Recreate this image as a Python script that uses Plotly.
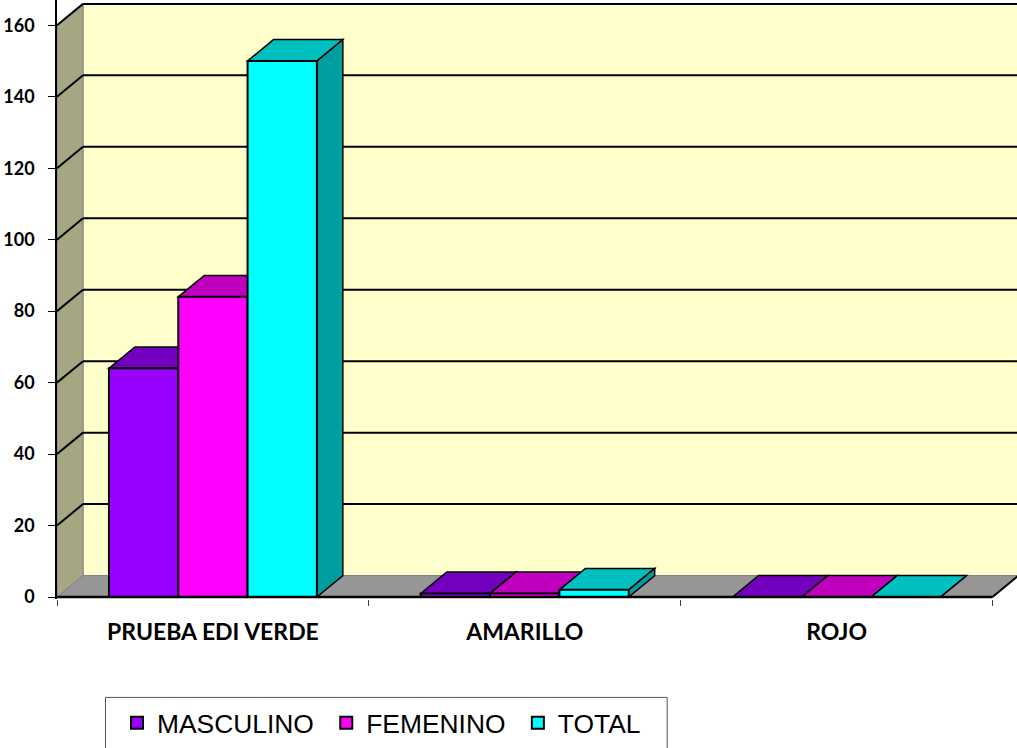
import plotly.graph_objects as go

categories = ["PRUEBA EDI VERDE", "AMARILLO", "ROJO"]
masculino = [64, 1, 0]
femenino = [84, 1, 0]
total = [150, 2, 0]
series_names = ["MASCULINO", "FEMENINO", "TOTAL"]
front_colors = ["#9900FF", "#FF00FF", "#00FFFF"]
top_colors = ["#7300BF", "#BF00BF", "#00BFBF"]
side_colors = ["#5F009F", "#9F009F", "#009F9F"]
y_ticks = [0, 20, 40, 60, 80, 100, 120, 140, 160]

WALL = "#FFFFCC"
SIDE_WALL = "#A6A682"
FLOOR = "#969696"
DX = 26 / 312      # depth, in category units
DY = 6.0           # depth, in value units
BAR_W = 2 / 9      # one bar, in category units
X0, X1 = -0.5, 2.5
Y_TOP = y_ticks[-1]


def poly(points, fill, line="black", width=1.5):
    path = "M" + " L".join(f"{x},{y}" for x, y in points) + " Z"
    return dict(type="path", path=path, xref="x", yref="y", layer="below",
                fillcolor=fill, line=dict(color=line, width=width))


def seg(x0, y0, x1, y1, color="black", width=2, layer="below"):
    return dict(type="line", xref="x", yref="y", x0=x0, y0=y0, x1=x1, y1=y1,
                layer=layer, line=dict(color=color, width=width))


shapes = [
    poly([(X0 + DX, DY), (X1 + DX, DY), (X1 + DX, Y_TOP + DY), (X0 + DX, Y_TOP + DY)], WALL, "#808080", 1),
    poly([(X0, 0), (X1, 0), (X1 + DX, DY), (X0 + DX, DY)], FLOOR, "#808080", 1),
    poly([(X0, 0), (X0 + DX, DY), (X0 + DX, Y_TOP + DY), (X0, Y_TOP)], SIDE_WALL, "#808080", 1),
]
for v in y_ticks[1:]:
    shapes.append(seg(X0, v, X0 + DX, v + DY))
    shapes.append(seg(X0 + DX, v + DY, X1 + DX, v + DY))
shapes.append(seg(X1, 0, X1 + DX, DY))

series = [masculino, femenino, total]
for c in range(len(categories)):
    for s, vals in enumerate(series):
        v = vals[c]
        left = c + (s - 1.5) * BAR_W
        right = left + BAR_W
        shapes.append(poly([(left, v), (right, v), (right + DX, v + DY), (left + DX, v + DY)], top_colors[s]))
        shapes.append(poly([(right, 0), (right + DX, DY), (right + DX, v + DY), (right, v)], side_colors[s]))

shapes.append(seg(X0, 0, X1, 0, width=2.5, layer="above"))

# legend frame, in page-fraction coordinates
W, H, ML, MB = 1017, 748, 56.5, 148.5
PW, PH = W - ML, H - MB
fx = lambda px: (px - ML) / PW
fy = lambda py: (H - MB - py) / PH
shapes.append(dict(type="rect", xref="paper", yref="paper", x0=fx(105), x1=fx(667), y0=fy(698), y1=fy(770),
                   line=dict(color="#555555", width=1), fillcolor="rgba(0,0,0,0)"))

fig = go.Figure()
for s, vals in enumerate(series):
    fig.add_trace(go.Bar(x=[0, 1, 2], y=vals, name=series_names[s] + "\u00a0", cliponaxis=False,
                         marker=dict(color=front_colors[s], line=dict(color="black", width=2))))

fig.update_layout(
    width=W, height=H, autosize=False,
    margin=dict(l=ML, r=0, t=0, b=MB, pad=0),
    paper_bgcolor="white", plot_bgcolor="rgba(0,0,0,0)",
    barmode="group", bargap=1 / 3, bargroupgap=0,
    shapes=shapes,
    showlegend=True,
    legend=dict(orientation="h", xref="container", yref="container", x=117 / W, y=1 - 699 / H,
                xanchor="left", yanchor="top",
                font=dict(family="Liberation Sans, Arial", size=26.4, color="black"),
                bgcolor="rgba(0,0,0,0)", borderwidth=0),
    xaxis=dict(range=[X0, (W - ML) / 312 + X0], tickmode="array", tickvals=[0, 1, 2], ticktext=categories,
               ticks="", showgrid=False, zeroline=False, showline=False, ticklabelstandoff=17,
               tickfont=dict(family="Lato", size=23, color="black", weight="bold"),
               minor=dict(tickmode="array", tickvals=[-0.5, 0.5, 1.5, 2.5], ticks="outside", ticklen=6,
                          tickcolor="#444444", tickwidth=1, showgrid=False)),
    yaxis=dict(range=[-0.56, 597 / 3.573], tickmode="array", tickvals=y_ticks, ticks="outside", ticklen=7,
               tickcolor="black", tickwidth=1, showgrid=False, zeroline=False, showline=True,
               linecolor="black", linewidth=1.5, ticklabelstandoff=10,
               tickfont=dict(family="Lato", size=18, color="black", weight="bold")),
)

fig.write_html("out.html", post_script="document.body.style.margin='0';",
               config={"displayModeBar": False})
